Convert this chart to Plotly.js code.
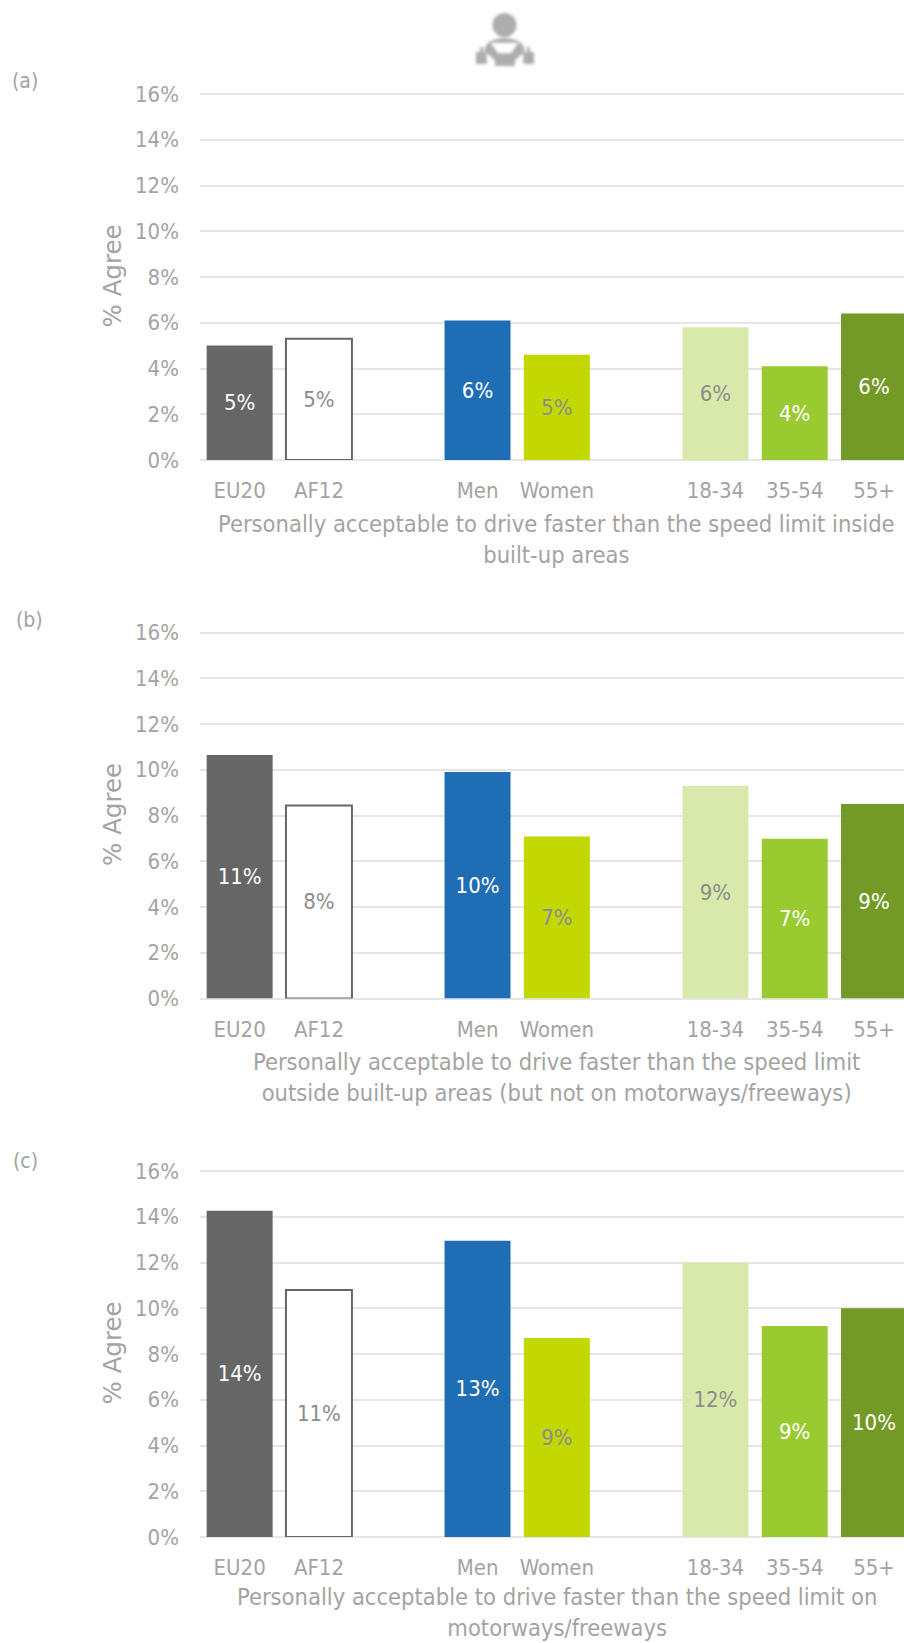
<!DOCTYPE html>
<html>
<head>
<meta charset="utf-8">
<script src="https://cdn.plot.ly/plotly-3.0.1.min.js"></script>
<style>html,body{margin:0;padding:0;background:#fff;overflow:hidden}#chart{width:904px;height:1643px}</style>
</head>
<body>
<div id="chart"></div>
<script>
const categories = ['EU20','AF12',' ','Men','Women','  ','18-34','35-54','55+'];
const valuesA = [5.0,5.3,null,6.1,4.6,null,5.8,4.1,6.4];
const valuesB = [10.64,8.44,null,9.9,7.08,null,9.3,6.98,8.5];
const valuesC = [14.26,10.8,null,12.95,8.7,null,12.0,9.22,10.0];
const labelsA = ['5%','5%','','6%','5%','','6%','4%','6%'];
const labelsB = ['11%','8%','','10%','7%','','9%','7%','9%'];
const labelsC = ['14%','11%','','13%','9%','','12%','9%','10%'];
const barColors = ['#666666','#ffffff','#fff','#1f6eb5','#c3d800','#fff','#d8e9ab','#99cb30','#739a27'];
const lineColors = ['#666666','#666666','#fff','#1f6eb5','#c3d800','#fff','#d8e9ab','#99cb30','#739a27'];
const lineWidths = [0,2,0,0,0,0,0,0,0];
const labelColors = ['#ffffff','#8c8c8c','#fff','#ffffff','#8c8c8c','#fff','#8c8c8c','#ffffff','#ffffff'];
const yTickVals = [0,2,4,6,8,10,12,14,16];
const yTickText = ['0%','2%','4%','6%','8%','10%','12%','14%','16%'];
const titleA = 'Personally acceptable to drive faster than the speed limit inside<br>built-up areas';
const titleB = 'Personally acceptable to drive faster than the speed limit<br>outside built-up areas (but not on motorways/freeways)';
const titleC = 'Personally acceptable to drive faster than the speed limit on<br>motorways/freeways';

const W = 904, H = 1643;
const FONT = '"DejaVu Sans Condensed","DejaVu Sans",sans-serif';
const GREY = '#a3a3a3';
const PX_PER_UNIT = 22.875, Y_MAX = 16.1;
const panels = [
  {vals: valuesA, labs: labelsA, bottom: 460, tag: '(a)', tagX: 25, tagY: 81, title: titleA, titleY: 539.5},
  {vals: valuesB, labs: labelsB, bottom: 998.5, tag: '(b)', tagX: 29.5, tagY: 620, title: titleB, titleY: 1077.5},
  {vals: valuesC, labs: labelsC, bottom: 1537, tag: '(c)', tagX: 25, tagY: 1160.5, title: titleC, titleY: 1612.5}
];
const traces = [];
const layout = {
  width: W, height: H, showlegend: false, bargap: 0.168,
  margin: {l:0,r:0,t:0,b:0,pad:0},
  paper_bgcolor: '#fff', plot_bgcolor: '#fff',
  font: {family: FONT, color: GREY, size: 22},
  annotations: [],
  images: [{
    source: 'data:image/svg+xml;utf8,' + encodeURIComponent(
      '<svg xmlns="http://www.w3.org/2000/svg" viewBox="0 0 90 70" width="90" height="70">' +
      '<defs><filter id="b" x="-20%" y="-20%" width="140%" height="140%"><feGaussianBlur stdDeviation="1.5"/></filter></defs>' +
      '<g filter="url(#b)" fill="#adadad">' +
      '<ellipse cx="54.5" cy="20" rx="12" ry="12"/>' +
      '<ellipse cx="54.5" cy="45" rx="20" ry="12"/>' +
      '<rect x="26" y="47" width="11" height="12" rx="1"/><rect x="73" y="47" width="11" height="12" rx="1"/>' +
      '<rect x="30" y="42" width="3" height="6"/><rect x="77" y="42" width="3" height="6"/>' +
      '<rect x="44" y="52" width="21" height="9"/>' +
      '<path d="M41 38 L68 38 L61 48 L48 48 Z" fill="#fff"/>' +
      '<path d="M37 48 L45 56 L45 61 L37 55 Z" fill="#fff"/><path d="M73 48 L65 56 L65 61 L73 55 Z" fill="#fff"/>' +
      '</g></svg>'),
    xref: 'paper', yref: 'paper', x: 450/W, y: 1-5/H, sizex: 90/W, sizey: 70/H,
    xanchor: 'left', yanchor: 'top', sizing: 'stretch', layer: 'above'
  }]
};
panels.forEach((p, i) => {
  const n = i === 0 ? '' : String(i+1);
  const top = p.bottom - Y_MAX * PX_PER_UNIT;
  traces.push({
    type: 'bar', x: categories, y: p.vals, text: p.labs, xaxis: 'x'+n, yaxis: 'y'+n,
    textposition: 'inside', insidetextanchor: 'middle', textangle: 0, constraintext: 'none',
    textfont: {family: FONT, size: 22, color: labelColors},
    marker: {color: barColors, line: {color: lineColors, width: lineWidths}},
    hoverinfo: 'skip'
  });
  layout['xaxis'+n] = {
    domain: [200/W, 1], range: [-0.5, 8.378], anchor: 'y'+n,
    type: 'category', categoryorder: 'array', categoryarray: categories,
    tickmode: 'array', tickvals: categories, ticktext: categories,
    showgrid: false, zeroline: false, showline: false, ticks: '',
    ticklabelstandoff: 15, automargin: false,
    tickfont: {family: FONT, size: 22, color: GREY}
  };
  layout['yaxis'+n] = {
    domain: [1-p.bottom/H, 1-top/H], range: [0,Y_MAX], anchor: 'x'+n,
    tickmode: 'array', tickvals: yTickVals, ticktext: yTickText,
    showgrid: true, gridcolor: '#e6e6e6', gridwidth: 2,
    zeroline: true, zerolinecolor: '#e6e6e6', zerolinewidth: 2,
    showline: false, ticks: '', ticklabelstandoff: 20, automargin: false,
    tickfont: {family: FONT, size: 22, color: GREY},
    title: {text: '% Agree', standoff: 6, font: {family: '"DejaVu Sans",sans-serif', size: 24.5, color: GREY}}
  };
  layout.annotations.push({
    text: p.title, xref: 'paper', yref: 'paper', x: 556.5/W, y: 1-p.titleY/H,
    xanchor: 'center', yanchor: 'middle', align: 'center', showarrow: false,
    font: {family: FONT, size: 23.5, color: GREY}
  });
  layout.annotations.push({
    text: p.tag, xref: 'paper', yref: 'paper', x: p.tagX/W, y: 1-p.tagY/H,
    xanchor: 'center', yanchor: 'middle', showarrow: false,
    font: {family: FONT, size: 21, color: GREY}
  });
});
Plotly.newPlot('chart', traces, layout, {displayModeBar: false, staticPlot: true});
</script>
</body>
</html>
